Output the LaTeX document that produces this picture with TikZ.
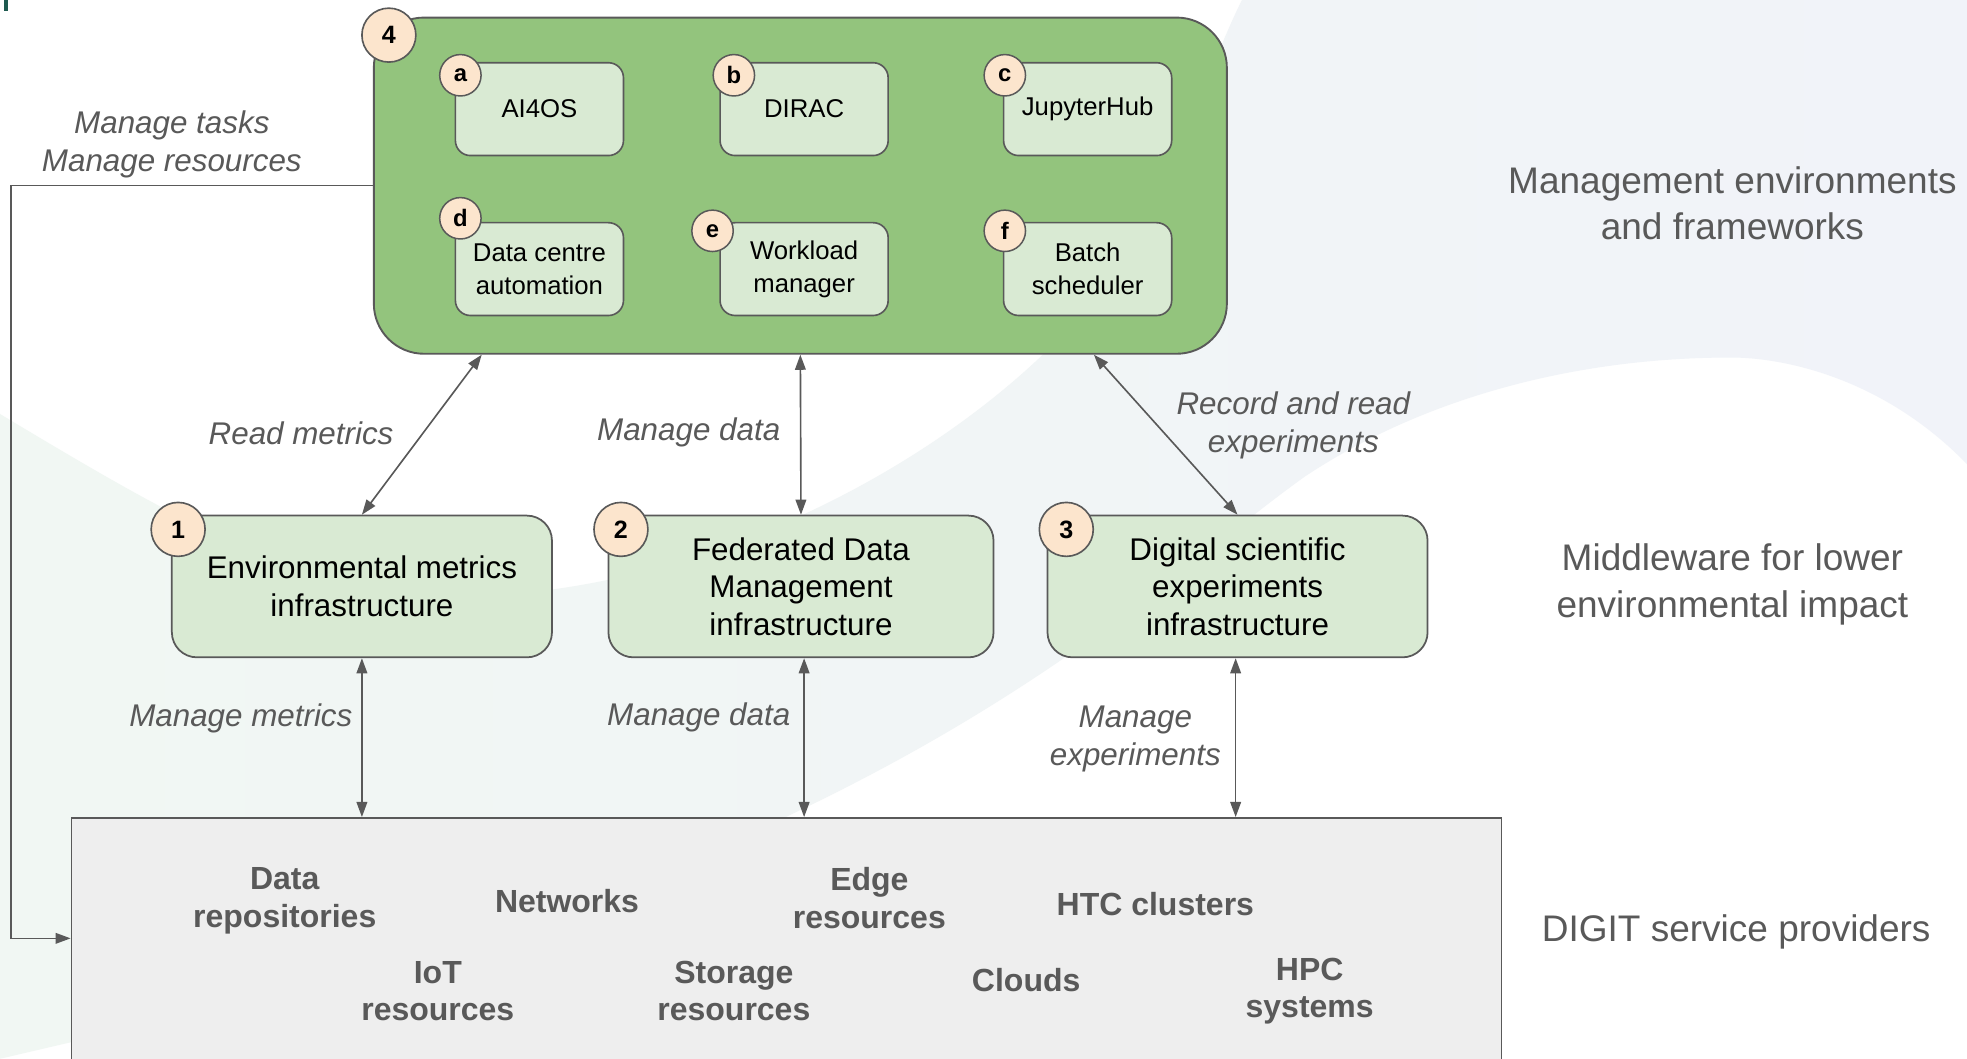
\documentclass[tikz,border=0pt]{standalone}
\usepackage{fontspec}
\setmainfont{Liberation Sans}
\usetikzlibrary{arrows.meta,calc}
\definecolor{edgec}{HTML}{595959}
\definecolor{dkgreen}{HTML}{93C47D}
\definecolor{ltgreen}{HTML}{D9EAD3}
\definecolor{peach}{HTML}{FCE5CD}
\definecolor{greyfill}{HTML}{EEEEEE}
\definecolor{labc}{HTML}{595959}
\definecolor{bandgreen}{RGB}{241,247,243}
\definecolor{bandblue}{RGB}{241,243,249}
\definecolor{logoc}{RGB}{30,90,80}
\begin{document}
\begin{tikzpicture}[x=1pt,y=-1pt,
  bigbox/.style={draw=edgec, line width=1.5pt, fill=dkgreen, rounded corners=40pt, minimum width=680pt, minimum height=268pt, inner sep=0pt},
  smallbox/.style={draw=edgec, line width=1.3pt, fill=ltgreen, rounded corners=12pt, minimum width=134pt, minimum height=74pt, align=center, inner sep=0pt, font=\fontsize{20.5}{26}\selectfont},
  midbox/.style={draw=edgec, line width=1.4pt, fill=ltgreen, rounded corners=20pt, minimum height=113pt, align=center, inner sep=0pt, font=\fontsize{25}{30}\selectfont},
  badgebig/.style={draw=edgec, line width=1.3pt, fill=peach, circle, minimum size=43pt, inner sep=0pt, font=\bfseries\fontsize{20}{22}\selectfont},
  badgesmall/.style={draw=edgec, line width=1.2pt, fill=peach, circle, minimum size=33pt, inner sep=0pt, font=\bfseries\fontsize{19}{20}\selectfont},
  lbl/.style={text=labc, align=center, font=\itshape\fontsize{25}{30}\selectfont},
  sidelbl/.style={text=labc, align=center, font=\fontsize{29.5}{37}\selectfont},
  res/.style={text=labc, align=center, font=\bfseries\fontsize{25.5}{30}\selectfont},
  tip/.tip={Triangle[length=12pt,width=8.5pt]},
  conn/.style={draw=edgec, line width=1.3pt, tip-tip},
  oneway/.style={draw=edgec, line width=1.3pt, -tip}
]
\clip (0,0) rectangle (1568,844);
\fill[white] (0,0) rectangle (1568,844);
% faint decorative background band
\shade[left color=bandgreen, right color=bandblue]
  (0,330) .. controls (150,420) and (250,478) .. (380,475)
  .. controls (600,468) and (820,330) .. (900,200)
  .. controls (940,130) and (965,50) .. (990,0)
  -- (1568,0) -- (1568,370)
  .. controls (1500,300) and (1420,285) .. (1380,285)
  .. controls (1250,285) and (1130,320) .. (1040,380)
  .. controls (900,480) and (700,700) .. (60,830)
  -- (0,844) -- cycle;
\fill[logoc] (3,0) rectangle (6,9);

% management box
\node[bigbox] (g4) at (638,148) {};
\node[badgebig] (n4) at (310,28) {4};

\node[smallbox] (a) at (430,87) {AI4OS};
\node[smallbox] (b) at (641,87) {DIRAC};
\node[smallbox] (c) at (867,87) {JupyterHub};
\node[smallbox] (d) at (430,214.5) {Data centre\\automation};
\node[smallbox] (e) at (641,214.5) {Workload\\manager};
\node[smallbox] (f) at (867,214.5) {Batch\\scheduler};
\node[badgesmall] (ba) at (367,60) {a};
\node[badgesmall] (bb) at (585,60) {b};
\node[badgesmall] (bc) at (801,60) {c};
\node[badgesmall] (bd) at (367,174) {d};
\node[badgesmall] (be) at (568,184) {e};
\node[badgesmall] (bf) at (801,184) {f};

% middleware boxes
\node[midbox, minimum width=303pt] (m1) at (288.5,467.5) {Environmental metrics\\infrastructure};
\node[midbox, minimum width=307pt] (m2) at (638.5,467.5) {Federated Data\\Management\\infrastructure};
\node[midbox, minimum width=303pt] (m3) at (986.5,467.5) {Digital scientific\\experiments\\infrastructure};
\node[badgebig] (n1) at (142,422) {1};
\node[badgebig] (n2) at (495,422) {2};
\node[badgebig] (n3) at (850,422) {3};

% service providers box
\node[draw=edgec, line width=1.4pt, fill=greyfill, minimum width=1140pt, minimum height=208pt, inner sep=0pt] (sp) at (627,756) {};

\node[res] (r1) at (227,718) {Data\\repositories};
\node[res] (r2) at (452,718) {Networks};
\node[res] (r3) at (693,716) {Edge\\resources};
\node[res] (r4) at (921,721) {HTC clusters};
\node[res] (r5) at (349,790) {IoT\\resources};
\node[res] (r6) at (585,790) {Storage\\resources};
\node[res] (r7) at (818,781) {Clouds};
\node[res] (r8) at (1044,790) {HPC\\systems};

% side labels
\node[sidelbl] (s1) at (1381,162) {Management environments\\and frameworks};
\node[sidelbl] (s2) at (1381,466) {Middleware for lower\\environmental impact};
\node[sidelbl] (s3) at (1384,743) {DIGIT service providers};

% connectors
\coordinate (g4a) at ($(g4.south)+(-254,0)$);
\coordinate (g4c) at ($(g4.south)+(234,0)$);
\coordinate (m2s) at ($(m2.south)+(2.5,0)$);
\coordinate (m3s) at ($(m3.south)+(-1.5,0)$);
\draw[conn] (g4a) -- (m1.north);
\draw[conn] (g4.south) -- (m2.north);
\draw[conn] (g4c) -- (m3.north);
\draw[conn] (m1.south) -- (m1.south |- sp.north);
\draw[conn] (m2s) -- (m2s |- sp.north);
\draw[conn] (m3s) -- (m3s |- sp.north);
\coordinate (lc) at (9,748);
\draw[oneway] (g4.west) -| (lc) -- (sp.west |- lc);

% connector labels
\node[lbl] (l0) at (137,115) {Manage tasks\\Manage resources};
\node[lbl] (l1) at (240,345) {Read metrics};
\node[lbl] (l2) at (549,345) {Manage data};
\node[lbl] (l3) at (1031,339) {Record and read\\experiments};
\node[lbl] (l4) at (192,573) {Manage metrics};
\node[lbl] (l5) at (557,572) {Manage data};
\node[lbl] (l6) at (905,589) {Manage\\experiments};
\end{tikzpicture}
\end{document}
